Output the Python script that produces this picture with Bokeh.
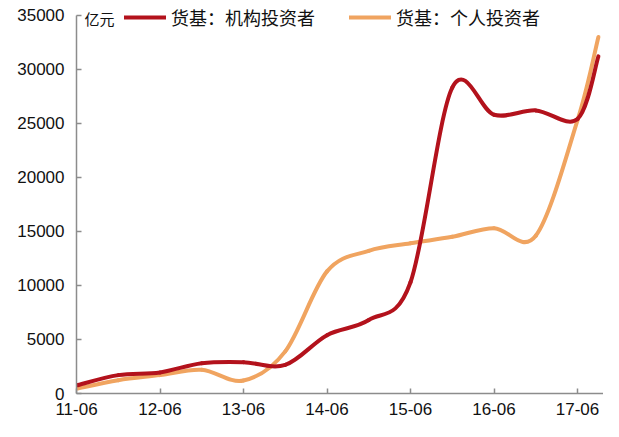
from bokeh.plotting import figure
from bokeh.models import (Range1d, FixedTicker, Legend, LegendItem, Label, ColumnDataSource)
from bokeh.embed import file_html
from bokeh.resources import INLINE

# ---- data (亿元) ----
periods = ["11-06", "11-12", "12-06", "12-12", "13-06", "13-12", "14-06",
           "14-12", "15-06", "15-12", "16-06", "16-12", "17-06", "17-09"]
institutional = [750, 1700, 1950, 2800, 2900, 2650, 5400,
                 6800, 10300, 28300, 25800, 26200, 25400, 31200]
individual = [450, 1230, 1700, 2200, 1200, 3900, 11300,
              13200, 13900, 14500, 15300, 14600, 25300, 33000]
tick_labels = ["11-06", "12-06", "13-06", "14-06", "15-06", "16-06", "17-06"]
y_ticks = [0, 5000, 10000, 15000, 20000, 25000, 30000, 35000]
unit = "亿元"
names = ["货基：机构投资者", "货基：个人投资者"]


def to_x(s):
    yy, mm = s.split("-")
    return 2000 + int(yy) + (int(mm) - 6) / 12.0


xs = [to_x(s) for s in periods]


def smooth_segments(x, y):
    # Excel-like smoothing: cubic Bezier with Catmull-Rom control points
    n = len(x)
    d = dict(x0=[], y0=[], x1=[], y1=[], cx0=[], cy0=[], cx1=[], cy1=[])
    for i in range(n - 1):
        xp, yp = (x[i - 1], y[i - 1]) if i > 0 else (x[i], y[i])
        xn, yn = (x[i + 2], y[i + 2]) if i + 2 < n else (x[i + 1], y[i + 1])
        d["x0"].append(x[i]); d["y0"].append(y[i])
        d["x1"].append(x[i + 1]); d["y1"].append(y[i + 1])
        d["cx0"].append(x[i] + (x[i + 1] - xp) / 6.0)
        d["cy0"].append(y[i] + (y[i + 1] - yp) / 6.0)
        d["cx1"].append(x[i + 1] - (xn - x[i]) / 6.0)
        d["cy1"].append(y[i + 1] - (yn - y[i]) / 6.0)
    return ColumnDataSource(d)


p = figure(width=603, height=421, output_backend="svg", toolbar_location=None,
           x_range=Range1d(to_x("11-06"), 2017.311), y_range=Range1d(0, 36000),
           min_border_left=76, min_border_right=0, min_border_top=4,
           min_border_bottom=28)
p.outline_line_color = None
p.xgrid.visible = False
p.ygrid.visible = False
p.background_fill_color = "white"

red = "#B3121C"
orange = "#F0A460"

r_ind = p.bezier(x0="x0", y0="y0", x1="x1", y1="y1", cx0="cx0", cy0="cy0",
                 cx1="cx1", cy1="cy1", source=smooth_segments(xs, individual),
                 line_color=orange, line_width=4, line_cap="round")
r_inst = p.bezier(x0="x0", y0="y0", x1="x1", y1="y1", cx0="cx0", cy0="cy0",
                  cx1="cx1", cy1="cy1", source=smooth_segments(xs, institutional),
                  line_color=red, line_width=4, line_cap="round")

for ax in (p.xaxis, p.yaxis):
    ax.axis_line_color = "#8C8C8C"
    ax.axis_line_width = 1.5
    ax.major_tick_line_color = "#8C8C8C"
    ax.major_tick_line_width = 1.5
    ax.major_tick_in = 5
    ax.major_tick_out = 0
    ax.minor_tick_line_color = None
    ax.major_label_text_font = "Liberation Sans"
    ax.major_label_text_font_size = "17px"
    ax.major_label_text_color = "#111111"

p.xaxis.ticker = FixedTicker(ticks=[to_x(t) for t in tick_labels])
p.xaxis.major_label_overrides = {to_x(t): t for t in tick_labels}
p.xaxis.major_label_standoff = 9
p.yaxis.ticker = FixedTicker(ticks=y_ticks)
p.yaxis.bounds = (0, 35000)
p.yaxis.major_label_standoff = 12

p.add_layout(Label(x=8, y=375, x_units="screen", y_units="screen", text=unit,
                   text_font="Noto Sans CJK SC", text_font_size="15px",
                   text_color="#111111", text_baseline="middle"))

legend = Legend(items=[LegendItem(label=names[0], renderers=[r_inst]),
                       LegendItem(label=names[1], renderers=[r_ind])],
                orientation="horizontal", location=(48, 363),
                glyph_width=42, glyph_height=18, label_standoff=5, spacing=34,
                padding=0, margin=0, border_line_color=None,
                background_fill_alpha=0,
                label_text_font="Noto Sans CJK SC", label_text_font_size="18px",
                label_text_color="#111111", label_height=18)
p.add_layout(legend, "center")

open("out.html", "w").write(file_html(p, INLINE))
